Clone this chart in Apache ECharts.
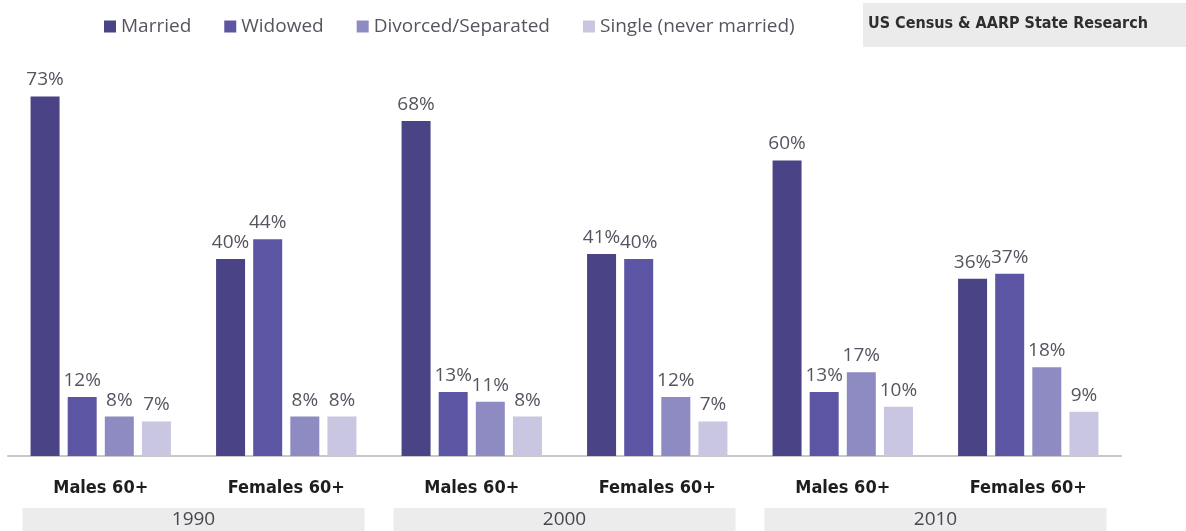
<!DOCTYPE html>
<html>
<head>
<meta charset="utf-8">
<script src="https://cdn.jsdelivr.net/npm/echarts@6/dist/echarts.min.js"></script>
<style>
  html, body { margin: 0; padding: 0; background: #fff; }
  #main { width: 1186px; height: 531px; }
</style>
</head>
<body>
<div id="main"></div>
<script>
// categories along x
const groups = ['Males 60+', 'Females 60+', 'Males 60+', 'Females 60+', 'Males 60+', 'Females 60+'];
const years = ['1990', '2000', '2010'];

// percent values per group
const married = [73, 40, 68, 41, 60, 36];
const widowed = [12, 44, 13, 40, 13, 37];
const divorced = [8, 8, 11, 12, 17, 18];
const single = [7, 8, 8, 7, 10, 9];

const seriesNames = ['Married', 'Widowed', 'Divorced/Separated', 'Single (never married)'];
const seriesColors = ['#4a4385', '#5c55a3', '#8e8bc2', '#c8c6e0'];
const seriesData = [married, widowed, divorced, single];

var chart = echarts.init(document.getElementById('main'));

var series = seriesData.map(function (d, i) {
  return {
    name: seriesNames[i],
    type: 'bar',
    data: d,
    barWidth: 29,
    barGap: '28%',
    itemStyle: { color: seriesColors[i] },
    label: {
      show: true,
      position: 'top',
      distance: 7,
      formatter: '{c}%',
      color: '#58535f',
      fontSize: 19,
      fontFamily: 'Open Sans'
    }
  };
});

var option = {
  backgroundColor: '#ffffff',
  animation: false,
  legend: {
    data: seriesNames,
    left: 99,
    top: 12,
    itemWidth: 12,
    itemHeight: 12,
    itemGap: 33,
    icon: 'rect',
    textStyle: { color: '#58535f', fontSize: 19, fontFamily: 'Open Sans' }
  },
  graphic: [
    {
      type: 'rect',
      left: 863,
      top: 3,
      shape: { width: 323, height: 44 },
      style: { fill: '#ebebeb' }
    },
    {
      type: 'text',
      left: 868,
      top: 16,
      style: {
        text: 'US Census & AARP State Research',
        fill: '#2e2e2e',
        font: 'bold 16px "DejaVu Sans Condensed"'
      }
    }
  ],
  grid: { left: 8, right: 65, top: 62, bottom: 73 },
  xAxis: [
    {
      type: 'category',
      data: groups,
      axisLine: { lineStyle: { color: '#c8c8c8', width: 2 } },
      axisTick: { show: false },
      axisLabel: {
        color: '#1e1e1e',
        fontSize: 18,
        fontWeight: 'bold',
        fontFamily: 'DejaVu Sans Condensed',
        margin: 23
      }
    },
    {
      type: 'category',
      data: years,
      position: 'bottom',
      offset: 52,
      axisLine: { show: false },
      axisTick: { show: false },
      axisLabel: {
        color: '#4a4550',
        fontSize: 19,
        fontFamily: 'Open Sans',
        backgroundColor: '#ececec',
        width: 342,
        height: 23,
        lineHeight: 23,
        align: 'center',
        margin: 0
      }
    }
  ],
  yAxis: {
    type: 'value',
    min: 0,
    max: 80,
    show: false,
    splitLine: { show: false }
  },
  series: series
};

chart.setOption(option);
</script>
</body>
</html>
